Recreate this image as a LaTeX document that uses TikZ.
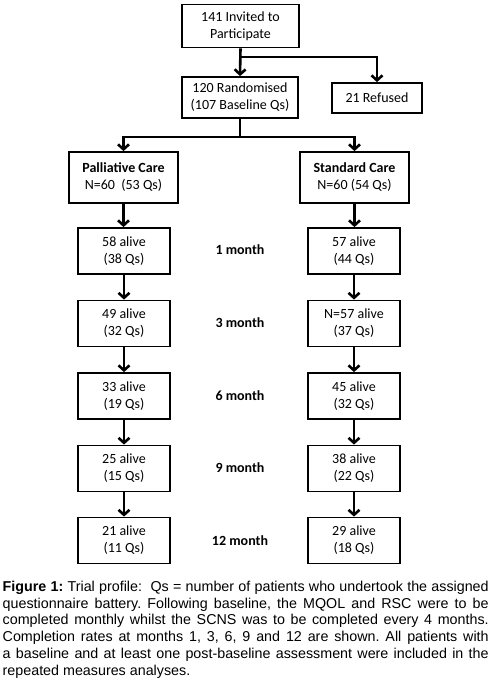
\documentclass[tikz,border=0pt]{standalone}
\usepackage{fontspec}
\setmainfont{Liberation Sans}
\newfontfamily\boxfont{Carlito}
\usetikzlibrary{arrows.meta}
\frenchspacing
\begin{document}
\begin{tikzpicture}[x=1pt,y=-1pt,
  box/.style={draw, line width=1.8pt, inner sep=0pt, align=center,
    font=\boxfont\fontsize{14}{17}\selectfont},
  colbox/.style={box, minimum width=92pt, minimum height=46pt},
  month/.style={font=\boxfont\bfseries\fontsize{14}{17}\selectfont, inner sep=0pt},
  arr/.style={line width=2.6pt, -{Straight Barb[length=5pt,width=11pt]}},
  ln/.style={line width=2.6pt}]
\useasboundingbox (0,0) rectangle (492,682);
% top part
\node[box, minimum width=117pt, minimum height=43pt] (top) at (240.5,26) {141 Invited to\\Participate};
\node[box, minimum width=116pt, minimum height=41pt] (rand) at (240,97.5) {120 Randomised\\(107 Baseline Qs)};
\node[box, minimum width=90pt, minimum height=30pt] (ref) at (377,98) {21 Refused};
\node[box, minimum width=109pt, minimum height=51pt] (pc) at (123.5,177.5) {\textbf{Palliative Care}\\N=60\ \ (53 Qs)};
\node[box, minimum width=109pt, minimum height=51pt] (sc) at (354.5,177.5) {\textbf{Standard Care}\\N=60 (54 Qs)};
\coordinate (b1) at (240,57);
\coordinate (b2) at (240,137);
\draw[arr] (top.south) -- (rand.north);
\draw[arr] (b1) -| (ref.north);
\draw[ln] (rand.south) -- (b2);
\draw[arr] (b2) -| (pc.north);
\draw[arr] (b2) -| (sc.north);
% columns
\node[colbox] (l1) at (124,251) {58 alive\\(38 Qs)};
\node[colbox] (l3) at (124,323.5) {49 alive\\(32 Qs)};
\node[colbox] (l6) at (124,396) {33 alive\\(19 Qs)};
\node[colbox] (l9) at (124,468.5) {25 alive\\(15 Qs)};
\node[colbox] (l12) at (124,540.5) {21 alive\\(11 Qs)};
\node[colbox] (r1) at (354,251) {57 alive\\(44 Qs)};
\node[colbox] (r3) at (354,323.5) {N=57 alive\\(37 Qs)};
\node[colbox] (r6) at (354,396) {45 alive\\(32 Qs)};
\node[colbox] (r9) at (354,468.5) {38 alive\\(22 Qs)};
\node[colbox] (r12) at (354,540.5) {29 alive\\(18 Qs)};
\node[month] (m1) at (240,250) {1 month};
\node[month] (m3) at (240,323) {3 month};
\node[month] (m6) at (240,396) {6 month};
\node[month] (m9) at (240,468) {9 month};
\node[month] (m12) at (240,541) {12 month};
\draw[arr] (pc.south) -- (pc.south |- l1.north);
\draw[arr] (sc.south) -- (sc.south |- r1.north);
\draw[arr] (l1) -- (l3);
\draw[arr] (l3) -- (l6);
\draw[arr] (l6) -- (l9);
\draw[arr] (l9) -- (l12);
\draw[arr] (r1) -- (r3);
\draw[arr] (r3) -- (r6);
\draw[arr] (r6) -- (r9);
\draw[arr] (r9) -- (r12);
% caption
\node[anchor=north west, text width=486pt, inner sep=0pt, align=justify,
  font=\fontsize{14.3}{16.7}\selectfont] (cap) at (2.5,581)
{\textbf{Figure 1:} Trial profile:\ \ Qs = number of patients who undertook the assigned\linebreak
questionnaire battery. Following baseline, the MQOL and RSC were to be\linebreak
completed monthly whilst the SCNS was to be completed every 4 months.\linebreak
Completion rates at months 1, 3, 6, 9 and 12 are shown. All patients with\linebreak
a baseline and at least one post-baseline assessment were included in the\linebreak
repeated measures analyses.};
\end{tikzpicture}
\end{document}
